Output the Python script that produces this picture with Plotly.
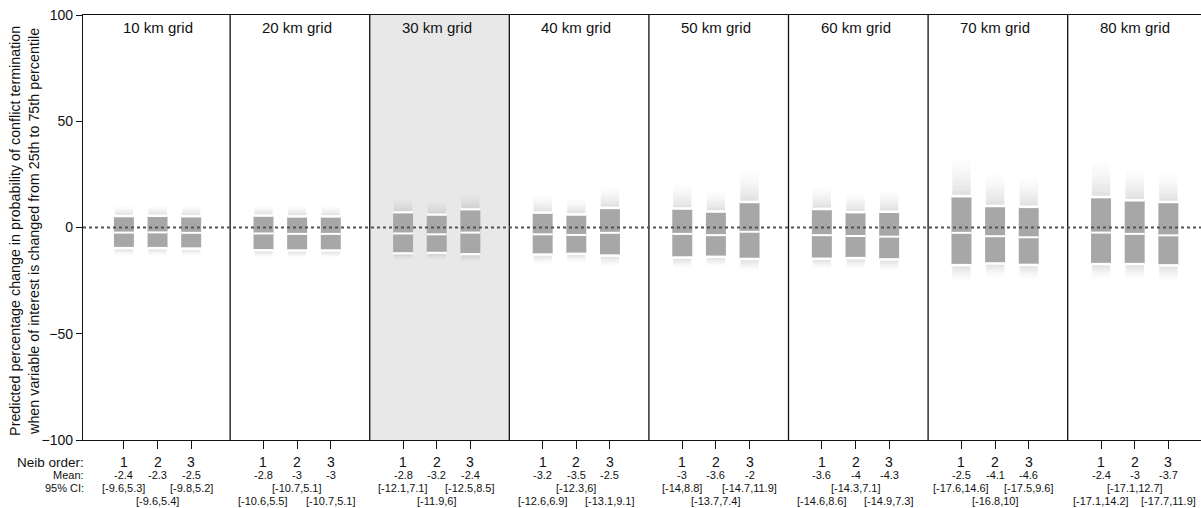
import plotly.graph_objects as go

panels = ["10 km grid", "20 km grid", "30 km grid", "40 km grid",
          "50 km grid", "60 km grid", "70 km grid", "80 km grid"]
orders = [1, 2, 3]

means = [[-2.4, -2.3, -2.5], [-2.8, -3, -3], [-2.8, -3.2, -2.4], [-3.2, -3.5, -2.5],
         [-3, -3.6, -2], [-3.6, -4, -4.3], [-2.5, -4.1, -4.6], [-2.4, -3, -3.7]]
ci_lo = [[-9.6, -9.6, -9.8], [-10.6, -10.7, -10.7], [-12.1, -11.9, -12.5], [-12.6, -12.3, -13.1],
         [-14, -13.7, -14.7], [-14.6, -14.3, -14.9], [-17.6, -16.8, -17.5], [-17.1, -17.1, -17.7]]
ci_hi = [[5.3, 5.4, 5.2], [5.5, 5.1, 5.1], [7.1, 6, 8.5], [6.9, 6, 9.1],
         [8.8, 7.4, 11.9], [8.6, 7.1, 7.3], [14.6, 10, 9.6], [14.2, 12.7, 11.9]]
# approximate extent of the simulated draws beyond the CI
tail_hi = [[10, 10, 10], [10, 10, 10], [13, 12, 15], [15, 13, 19],
           [20, 17, 26], [19, 16, 17], [32, 25, 23], [30, 27, 25]]
tail_lo = [[-13, -13, -13], [-14, -14, -14], [-15, -15, -16], [-17, -16, -18],
           [-19, -18, -20], [-19, -19, -20], [-25, -23, -24], [-24, -24, -25]]

SP = 0.241     # spacing between orders within a panel
BW = 0.143     # box width
FONT = "Liberation Sans, Arial, Helvetica, sans-serif"

xs, lo, hi, mu, th, tl = [], [], [], [], [], []
for p in range(len(panels)):
    for j, o in enumerate(orders):
        xs.append(p + (o - 2) * SP)
        lo.append(ci_lo[p][j]); hi.append(ci_hi[p][j]); mu.append(means[p][j])
        th.append(tail_hi[p][j]); tl.append(tail_lo[p][j])

fig = go.Figure()

# haze of simulated draws (fading segments)
NSEG = 8
GAP = 0.7
for k in range(NSEG):
    a, b = k / NSEG, (k + 1) / NSEG
    op = 0.28 * (1 - k / NSEG) ** 1.6 + 0.02
    col = f"rgba(160,160,160,{op:.3f})"
    fig.add_trace(go.Bar(x=xs, base=[h + GAP + a * (t - h - GAP) for h, t in zip(hi, th)],
                         y=[(b - a) * (t - h - GAP) for h, t in zip(hi, th)],
                         width=BW * 0.92, marker=dict(color=col, line_width=0),
                         hoverinfo="skip", showlegend=False))
    fig.add_trace(go.Bar(x=xs, base=[l - GAP - b * (l - GAP - t) for l, t in zip(lo, tl)],
                         y=[(b - a) * (l - GAP - t) for l, t in zip(lo, tl)],
                         width=BW * 0.92, marker=dict(color=col, line_width=0),
                         hoverinfo="skip", showlegend=False))

# CI boxes
fig.add_trace(go.Bar(x=xs, base=lo, y=[h - l for h, l in zip(hi, lo)], width=BW,
                     marker=dict(color="#a7a7a7", line_width=0), showlegend=False))

# white lines at CI bounds and mean
lx, ly = [], []
for x, l, h, m in zip(xs, lo, hi, mu):
    for v in (l, h, m):
        lx += [x - BW / 2, x + BW / 2, None]
        ly += [v, v, None]
fig.add_trace(go.Scatter(x=lx, y=ly, mode="lines", line=dict(color="white", width=2),
                         hoverinfo="skip", showlegend=False))

shapes = []
# grey background for 30 km panel
shapes.append(dict(type="rect", xref="x", yref="y", x0=1.52, x1=2.52, y0=-100, y1=100,
                   fillcolor="#e8e8e8", line_width=0, layer="below"))
# panel separators
for p in range(len(panels) - 1):
    shapes.append(dict(type="line", xref="x", yref="y", x0=p + 0.52, x1=p + 0.52, y0=-100, y1=100,
                       line=dict(color="#111", width=1.3)))
# zero line
shapes.append(dict(type="line", xref="paper", yref="y", x0=0, x1=1, y0=0, y1=0,
                   line=dict(color="#555", width=2, dash="dot")))

ann = []
for p, name in enumerate(panels):
    ann.append(dict(x=p, y=1, xref="x", yref="paper", text=name, showarrow=False,
                    xanchor="center", yanchor="top", yshift=-2, font=dict(size=15, color="#111")))

def py(px):
    return -(px - 440) / 425.0

for i, (x, m) in enumerate(zip(xs, mu)):
    o = orders[i % 3]
    p = i // 3
    j = i % 3
    ann.append(dict(x=x, y=py(462), xref="x", yref="paper", text=str(o), showarrow=False,
                    xanchor="center", yanchor="middle", font=dict(size=14, color="#111")))
    ann.append(dict(x=x, y=py(475), xref="x", yref="paper", text=f"{m:g}", showarrow=False,
                    xanchor="center", yanchor="middle", font=dict(size=11, color="#111")))
    row_y = 488 if i % 2 == 0 else 501
    ann.append(dict(x=x, y=py(row_y), xref="x", yref="paper",
                    text=f"[{ci_lo[p][j]:g},{ci_hi[p][j]:g}]", showarrow=False,
                    xanchor="center", yanchor="middle", font=dict(size=11, color="#111")))

for txt, yy, sz in [("Neib order:", 462, 13.5), ("Mean:", 475, 11), ("95% CI:", 488, 11)]:
    ann.append(dict(x=0, y=py(yy), xref="paper", yref="paper", text=txt, showarrow=False,
                    xanchor="right", yanchor="middle", xshift=3, font=dict(size=sz, color="#111")))

ann.append(dict(x=0, y=0.492, xref="paper", yref="paper", xshift=-58, textangle=-90,
                xanchor="center", yanchor="middle",
                text="Predicted percentage change in probability of conflict termination<br>"
                     "when variable of interest is changed from 25th to 75th percentile",
                showarrow=False, font=dict(size=14.3, color="#111")))

fig.update_layout(
    width=1201, height=508,
    margin=dict(l=83, r=0, t=15, b=68),
    plot_bgcolor="white", paper_bgcolor="white",
    font=dict(family=FONT, color="#111"),
    barmode="overlay",
    shapes=shapes, annotations=ann,
    xaxis=dict(range=[-0.534, 7.475], tickvals=xs, ticks="outside", ticklen=8,
               tickcolor="#111", showticklabels=False, showgrid=False, zeroline=False,
               showline=True, linecolor="#111", linewidth=1.3, mirror=True),
    yaxis=dict(range=[-100, 100], tickvals=[-100, -50, 0, 50, 100], ticks="outside",
               ticklen=6, tickcolor="#111", tickfont=dict(size=14), showgrid=False,
               zeroline=False, showline=True, linecolor="#111", linewidth=1.3),
)

fig.write_html("out.html")
